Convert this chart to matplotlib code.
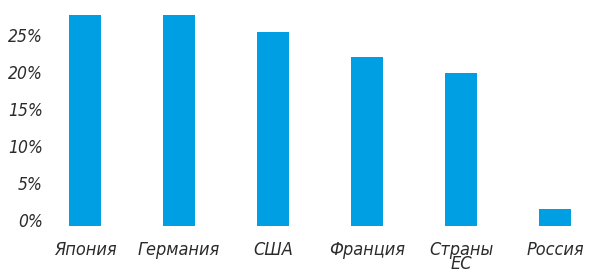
import matplotlib
matplotlib.use("Agg")
import matplotlib.pyplot as plt
from matplotlib.ticker import FuncFormatter
import matplotlib.transforms as mtransforms

# данные с графика (доля, %)
countries = ["Япония", "Германия", "США", "Франция", "Страны\nЕС", "Россия"]
values = [28.5, 28.5, 26.2, 22.8, 20.7, 2.3]
yticks = [0, 5, 10, 15, 20, 25]

bar_color = "#009ee2"
text_color = "#2b2b2b"
font = ["DejaVu Sans"]

fig = plt.figure(figsize=(5.9, 2.76), dpi=100)
ax = fig.add_axes([50 / 590, 1 - 226 / 276, 540 / 590, 226 / 276])

x = list(range(len(countries)))
ax.bar(x, values, width=0.34, color=bar_color)

ax.set_xlim(-0.372, 5.372)
ax.set_ylim(0, 226 / 7.4)

ax.set_yticks(yticks)
ax.yaxis.set_major_formatter(FuncFormatter(lambda v, p: f"{v:.0f}%"))
ax.set_xticks(x)
ax.set_xticklabels(countries)

ax.tick_params(axis="both", length=0)
ax.tick_params(axis="y", pad=5)
ax.tick_params(axis="x", pad=11)

for lbl in ax.get_yticklabels():
    lbl.set_family(font)
    lbl.set_style("italic")
    lbl.set_stretch("condensed")
    lbl.set_fontsize(12.5)
    lbl.set_color(text_color)
    # подписи оси Y чуть выше делений
    lbl.set_transform(lbl.get_transform() + mtransforms.ScaledTranslation(0, 4 / 72, fig.dpi_scale_trans))

for lbl in ax.get_xticklabels():
    lbl.set_family(font)
    lbl.set_style("italic")
    lbl.set_stretch("condensed")
    lbl.set_fontsize(13)
    lbl.set_color(text_color)
    lbl.set_linespacing(0.72)

for s in ax.spines.values():
    s.set_visible(False)

fig.savefig("out.png", dpi=100)
